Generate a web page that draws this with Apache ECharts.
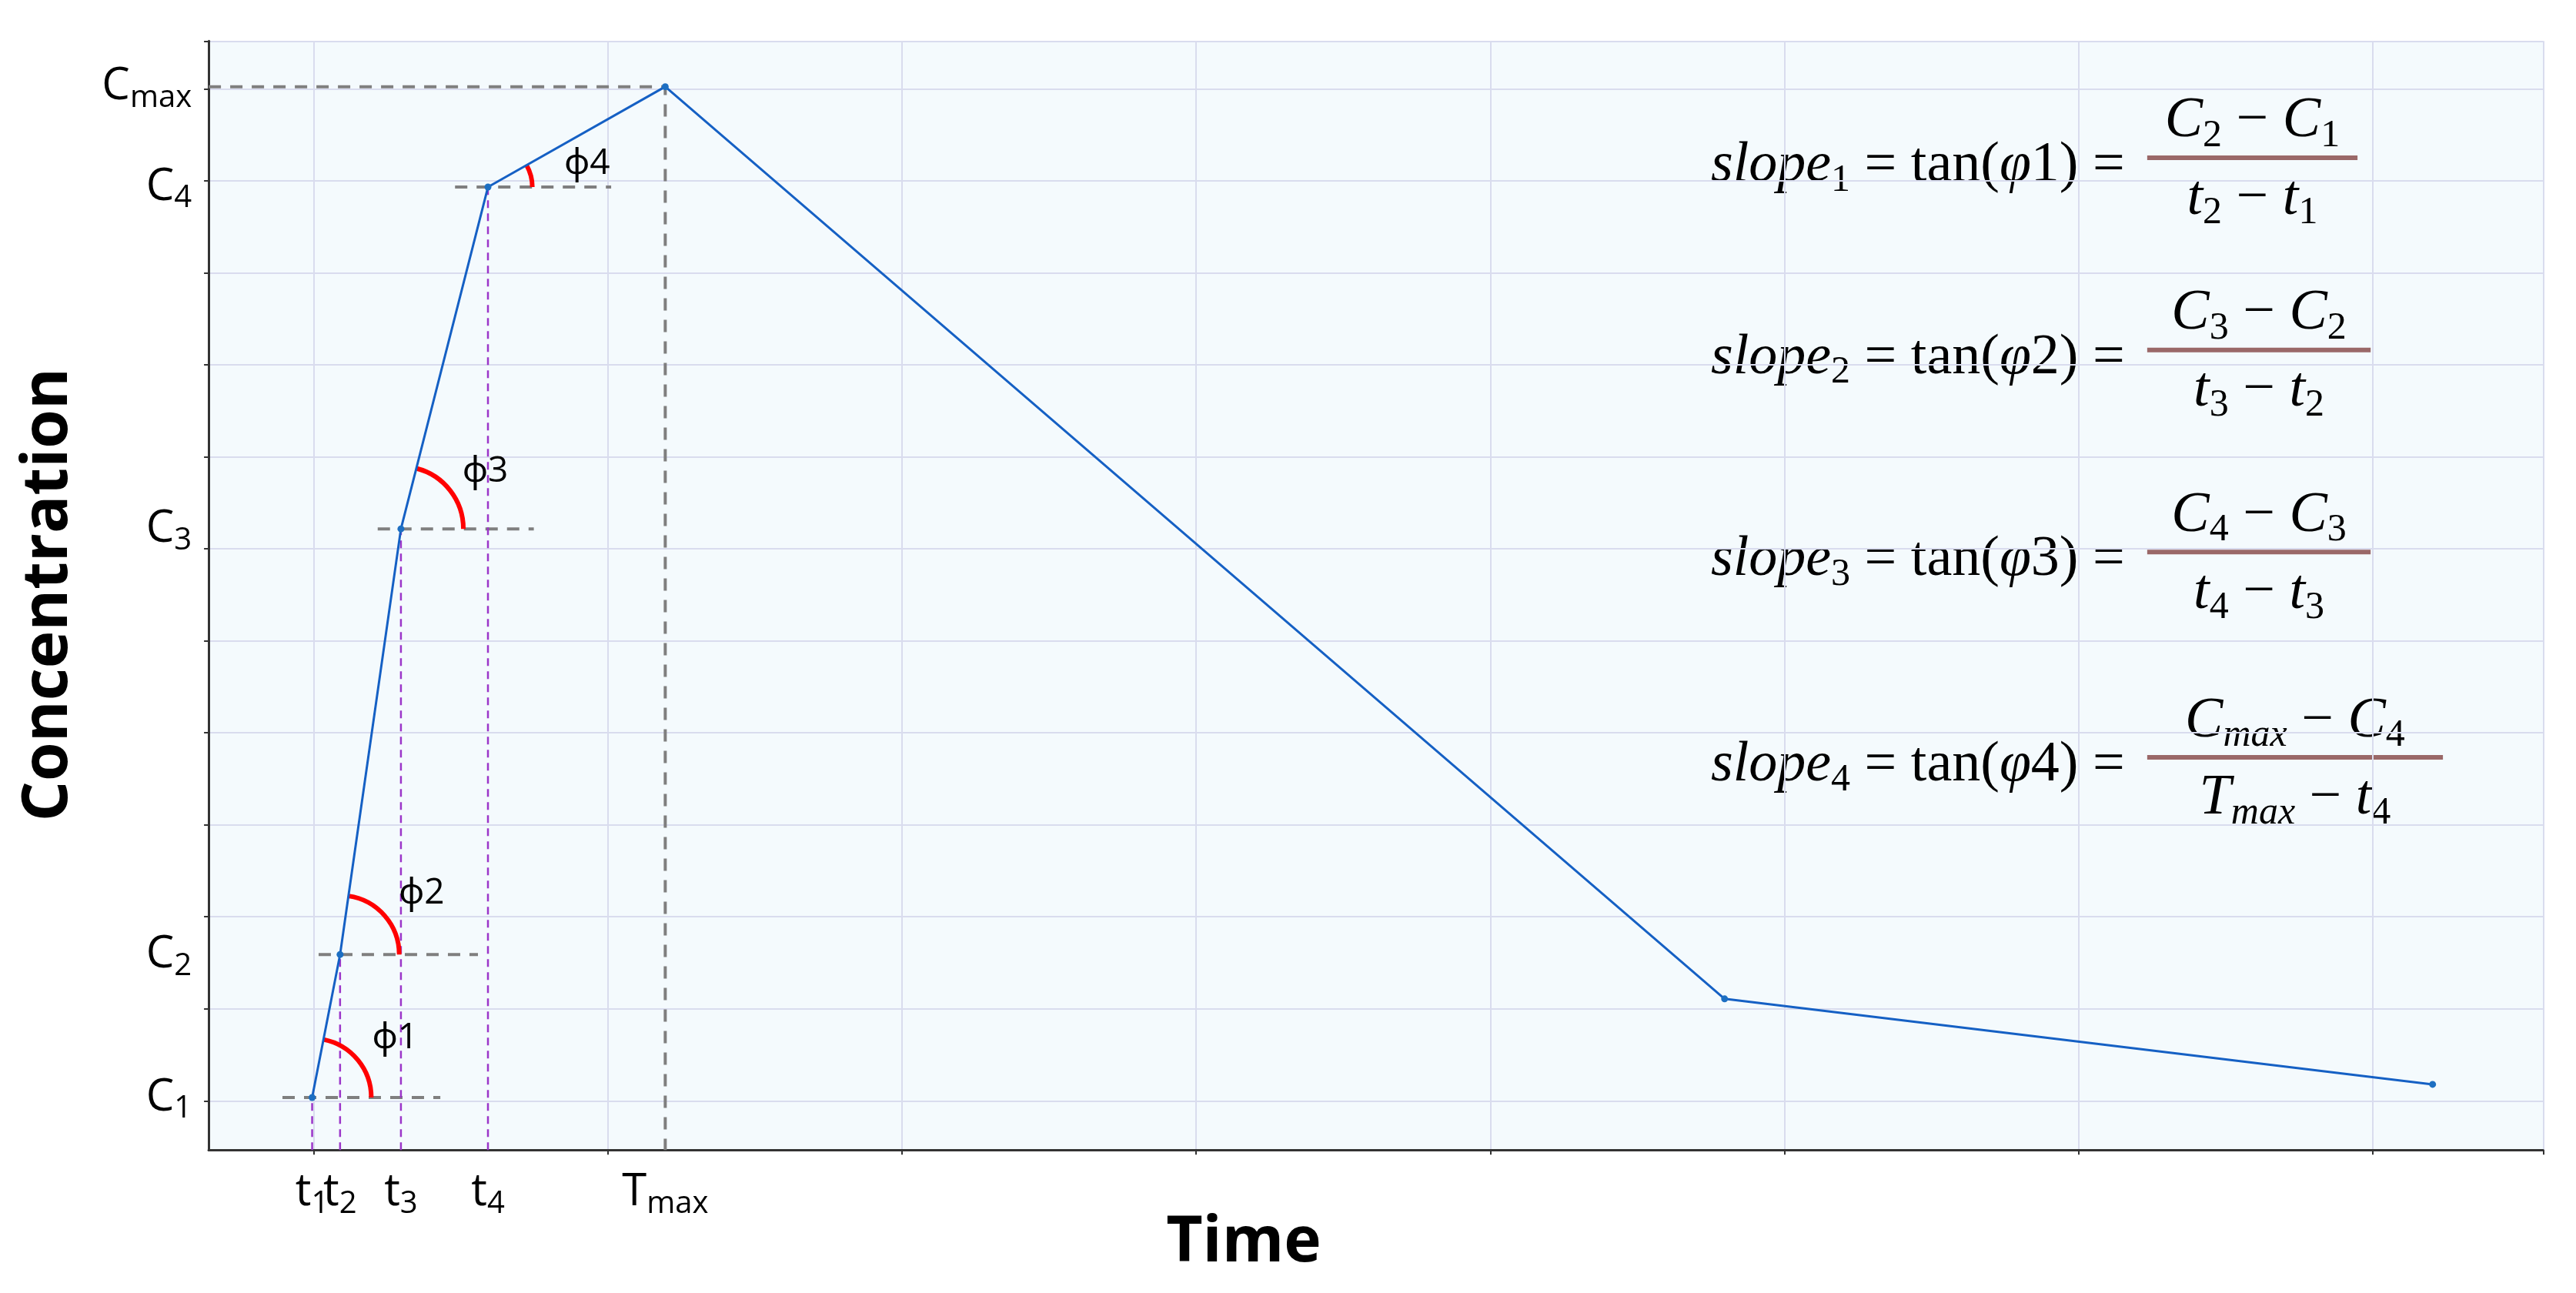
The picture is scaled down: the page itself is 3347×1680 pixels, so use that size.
<!DOCTYPE html>
<html>
<head>
<meta charset="utf-8">
<script src="https://cdn.jsdelivr.net/npm/echarts@6/dist/echarts.min.js"></script>
<style>
  html, body { margin: 0; padding: 0; background: #fff; }
  #main { width: 3347px; height: 1680px; }
</style>
</head>
<body>
<div id="main"></div>
<script>
// measured values (time in grid units, concentration in grid units)
const timeVals = [0.352, 0.447, 0.654, 0.950, 1.553, 5.156, 7.564];
const concVals = [0.571, 2.125, 6.75, 10.464, 11.554, 1.643, 0.714];
const xTickNames = ['{m|t}{s|1}', '{m|t}{s|2}', '{m|t}{s|3}', '{m|t}{s|4}', '{m|T}{s|max}'];
const yTickNames = ['{m|C}{s|1}', '{m|C}{s|2}', '{m|C}{s|3}', '{m|C}{s|4}', '{m|C}{s|max}'];
const phiNames = ['ϕ1', 'ϕ2', 'ϕ3', 'ϕ4'];
const guideFrom = [0.251, 0.374, 0.575, 0.838];
const guideTo = [0.788, 0.916, 1.106, 1.369];
const arcRadius = [36, 36, 38, 27];

const S = 3347 / 1568;
const px = v => v * S;

const fontLab = "'Open Sans', 'Noto Sans', sans-serif";
const fontMath = "'Liberation Serif', 'DejaVu Serif', serif";

// dashed guide data
const grayDash = [];
for (let i = 0; i < 4; i++) {
  grayDash.push([guideFrom[i], concVals[i]], [guideTo[i], concVals[i]], ['-', '-']);
}
grayDash.push([0, concVals[4]], [timeVals[4], concVals[4]], [timeVals[4], 0]);
const purpleDash = [];
for (let i = 0; i < 4; i++) {
  purpleDash.push([timeVals[i], 0], [timeVals[i], concVals[i]], ['-', '-']);
}

const arcData = [0, 1, 2, 3].map(i => [timeVals[i], concVals[i], timeVals[i + 1], concVals[i + 1], i]);

const mathRich = {
  r: { fontFamily: fontMath, fontSize: 74, lineHeight: 88, verticalAlign: 'middle', color: '#000' },
  i: { fontFamily: fontMath, fontStyle: 'italic', fontSize: 74, lineHeight: 88, verticalAlign: 'middle', color: '#000' },
  s: { fontFamily: fontMath, fontSize: 50, lineHeight: 50, verticalAlign: 'bottom', color: '#000' },
  si: { fontFamily: fontMath, fontStyle: 'italic', fontSize: 50, lineHeight: 50, verticalAlign: 'bottom', color: '#000' }
};

const formulas = [
  { y: 96, w: 128, left: '{i|slope}{s|1}{r| = tan(}{i|φ}{r|1) = }', num: '{i|C}{s|2}{r| − }{i|C}{s|1}', den: '{i|t}{s|2}{r| − }{i|t}{s|1}' },
  { y: 213, w: 136, left: '{i|slope}{s|2}{r| = tan(}{i|φ}{r|2) = }', num: '{i|C}{s|3}{r| − }{i|C}{s|2}', den: '{i|t}{s|3}{r| − }{i|t}{s|2}' },
  { y: 336, w: 136, left: '{i|slope}{s|3}{r| = tan(}{i|φ}{r|3) = }', num: '{i|C}{s|4}{r| − }{i|C}{s|3}', den: '{i|t}{s|4}{r| − }{i|t}{s|3}' },
  { y: 461, w: 180, left: '{i|slope}{s|4}{r| = tan(}{i|φ}{r|4) = }', num: '{i|C}{si|max}{r| − }{i|C}{s|4}', den: '{i|T}{si|max}{r| − }{i|t}{s|4}' }
];

const graphics = [];
formulas.forEach(f => {
  const x0 = 1307, cx = x0 + f.w / 2;
  graphics.push({ type: 'text', x: px(1302), y: px(f.y + 5), style: { text: f.left, rich: mathRich, align: 'right', verticalAlign: 'middle' } });
  graphics.push({ type: 'line', shape: { x1: px(x0), y1: px(f.y), x2: px(x0 + f.w), y2: px(f.y) }, style: { stroke: '#9a6868', lineWidth: 6 } });
  graphics.push({ type: 'text', x: px(cx), y: px(f.y - 22), style: { text: f.num, rich: mathRich, align: 'center', verticalAlign: 'middle' } });
  graphics.push({ type: 'text', x: px(cx), y: px(f.y + 25), style: { text: f.den, rich: mathRich, align: 'center', verticalAlign: 'middle' } });
});
graphics.push({ type: 'text', x: px(30), y: px(362), rotation: Math.PI / 2,
  style: { text: 'Concentration', font: "bold 82px " + fontLab, fill: '#000', align: 'center', verticalAlign: 'middle' } });
graphics.push({ type: 'text', x: px(757), y: px(757),
  style: { text: 'Time', font: "bold 82px " + fontLab, fill: '#000', align: 'center', verticalAlign: 'middle' } });

const labRich = {
  m: { fontFamily: fontLab, fontSize: 58, lineHeight: 70, verticalAlign: 'middle', color: '#000' },
  s: { fontFamily: fontLab, fontSize: 40, lineHeight: 40, verticalAlign: 'bottom', color: '#000' }
};
const gridLine = { show: true, lineStyle: { color: '#d9dcee', width: 2 } };
const xLabelAxis = (vals, line) => ({
  gridIndex: 0, type: 'value', min: 0, max: 7.94, position: 'bottom', splitLine: { show: false },
  axisLine: { show: line, onZero: false, lineStyle: { color: '#333', width: 3 } },
  axisTick: { show: false },
  axisLabel: { show: true, margin: 20, hideOverlap: false, customValues: vals, rich: labRich,
    formatter: v => xTickNames[timeVals.indexOf(v)] }
});

const option = {
  animation: false,
  backgroundColor: '#fff',
  grid: [
    { left: px(127), right: px(20), top: px(25), bottom: px(87), show: true, backgroundColor: '#f4fafd', borderWidth: 0 },
    { left: px(191), right: px(20), top: px(25), bottom: px(87) },
    { left: px(127), right: px(20), top: px(25), bottom: px(117) }
  ],
  xAxis: [
    xLabelAxis([timeVals[0], timeVals[2], timeVals[3], timeVals[4]], true),
    { gridIndex: 1, type: 'value', min: 0, max: 7.58, interval: 1, splitLine: gridLine,
      axisLine: { show: false }, axisTick: { show: true, length: 6, lineStyle: { color: '#333', width: 2 } },
      axisLabel: { show: false } },
    { gridIndex: 2, type: 'value', min: 0, max: 1, show: false },
    xLabelAxis([timeVals[1]], false)
  ],
  yAxis: [
    { gridIndex: 0, type: 'value', min: 0, max: 12.05, splitLine: { show: false },
      axisLine: { show: true, onZero: false, lineStyle: { color: '#333', width: 3 } },
      axisTick: { show: false },
      axisLabel: { show: true, margin: 22, hideOverlap: false, customValues: concVals.slice(0, 5),
        rich: labRich, formatter: v => yTickNames[concVals.indexOf(v)] } },
    { gridIndex: 1, type: 'value', min: 0, max: 1, show: false },
    { gridIndex: 2, type: 'value', min: 0, max: 11.52, interval: 1, splitLine: gridLine,
      axisLine: { show: false }, axisTick: { show: true, length: 6, lineStyle: { color: '#333', width: 2 } },
      axisLabel: { show: false } }
  ],
  graphic: graphics,
  series: [
    { type: 'line', xAxisIndex: 0, yAxisIndex: 0, data: grayDash, symbol: 'none', z: 3,
      lineStyle: { color: '#7f7f7f', width: 4, type: [16, 12] } },
    { type: 'line', xAxisIndex: 0, yAxisIndex: 0, data: purpleDash, symbol: 'none', z: 3,
      lineStyle: { color: '#9b35c9', width: 2.5, type: [10, 7] } },
    { type: 'custom', xAxisIndex: 0, yAxisIndex: 0, data: arcData, z: 4,
      renderItem: (params, api) => {
        const p1 = api.coord([api.value(0), api.value(1)]);
        const p2 = api.coord([api.value(2), api.value(3)]);
        const k = api.value(4);
        const a = Math.atan2(p1[1] - p2[1], p2[0] - p1[0]);
        const r = px(arcRadius[k]);
        const d = px(62), la = a * 0.45;
        return { type: 'group', children: [
          { type: 'arc', shape: { cx: p1[0], cy: p1[1], r: r, startAngle: -a, endAngle: 0, clockwise: true },
            style: { stroke: '#ff0000', lineWidth: 6, fill: null } },
          { type: 'text', x: p1[0] + d * Math.cos(la), y: p1[1] - d * Math.sin(la),
            style: { text: phiNames[k], font: '46px ' + fontLab, fill: '#000', align: 'center', verticalAlign: 'middle' } }
        ] };
      } },
    { type: 'line', xAxisIndex: 0, yAxisIndex: 0, data: timeVals.map((t, i) => [t, concVals[i]]), z: 5,
      symbol: 'circle', symbolSize: 9, itemStyle: { color: '#1d6fc2' },
      lineStyle: { color: '#1560c4', width: 3 } }
  ]
};

echarts.init(document.getElementById('main')).setOption(option);
</script>
</body>
</html>
